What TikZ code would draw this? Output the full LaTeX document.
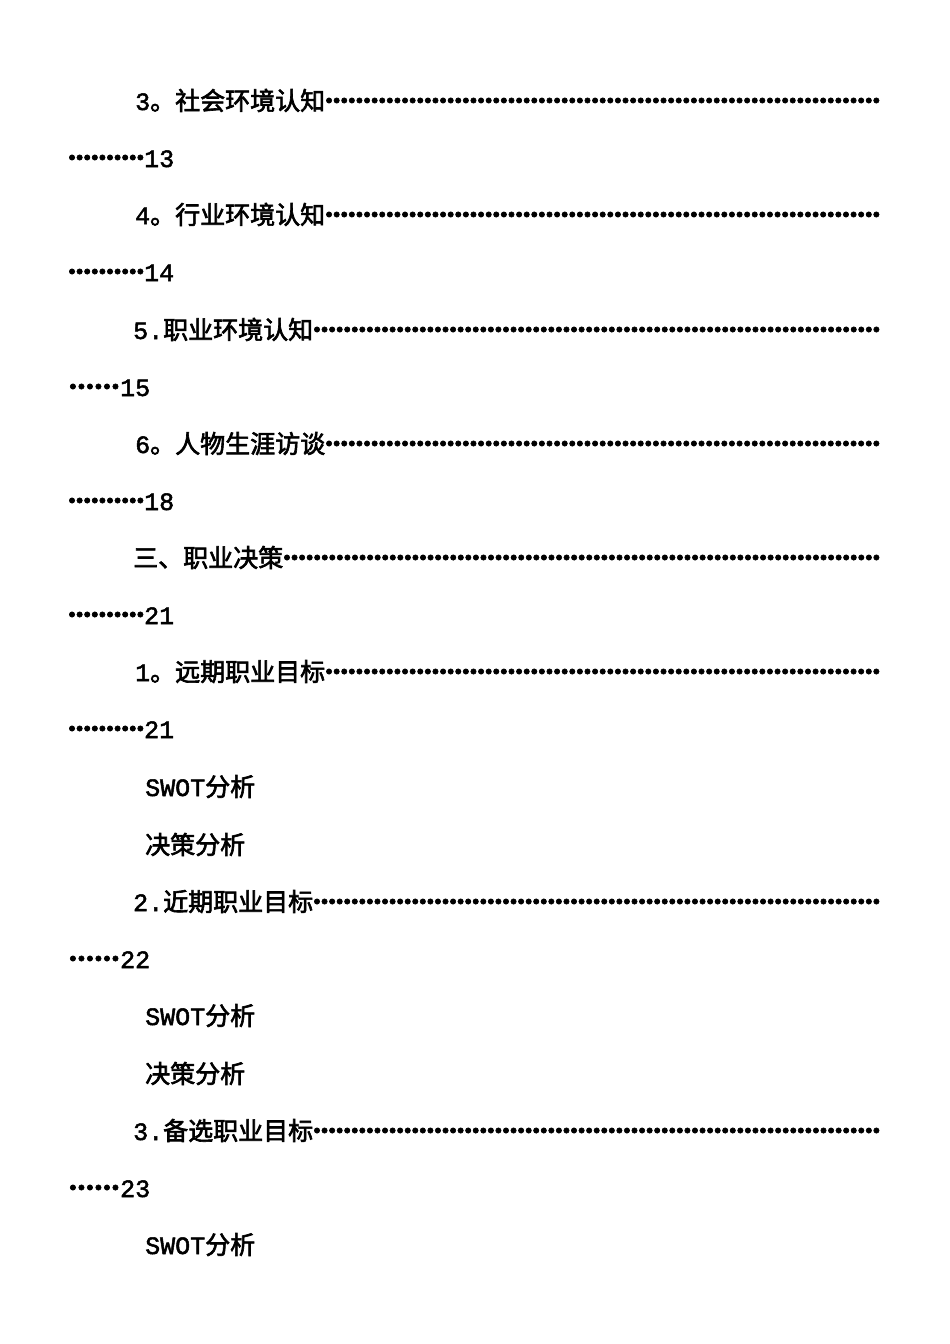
\documentclass[tikz,border=0pt]{standalone}
\usepackage{fontspec}
\setmainfont{Noto Sans CJK SC}[AutoFakeBold=2.5]
\newfontfamily\latinf{Liberation Mono}[AutoFakeBold=2]
\newcommand{\mydots}{\xleaders\hbox to 7.55pt{\hss\textbf{·}\hss}\hfill}
\begin{document}
\begin{tikzpicture}[x=1pt,y=1pt,
  txt/.style={anchor=base west,inner sep=0pt,font=\fontsize{25}{25}\selectfont\bfseries}]
\useasboundingbox[fill=white] (0,0) rectangle (950,-1344);
\newcommand{\entry}[6]{%
 \node[txt] (#1a) at (#3,-#2) {\hbox to \dimexpr 880pt-#3pt\relax{#4\mydots}};
 \node[txt] (#1b) at (68,-#2-57) {\hbox to #6pt{\mydots}{\latinf #5}};}
\entry{e1}{110}{135}{{\latinf 3}。社会环境认知}{13}{76}
\entry{e2}{224}{135}{{\latinf 4}。行业环境认知}{14}{76}
\entry{e3}{339}{133}{{\latinf 5.}职业环境认知}{15}{52}
\entry{e4}{453}{135}{{\latinf 6}。人物生涯访谈}{18}{76}
\entry{e5}{567}{133}{三、职业决策}{21}{76}
\entry{e6}{681}{135}{{\latinf 1}。远期职业目标}{21}{76}
\node[txt] (s1) at (145,-796) {{\latinf SWOT}分析};
\node[txt] (d1) at (145,-854) {决策分析};
\entry{e7}{911}{133}{{\latinf 2.}近期职业目标}{22}{52}
\node[txt] (s2) at (145,-1025) {{\latinf SWOT}分析};
\node[txt] (d2) at (145,-1083) {决策分析};
\entry{e8}{1140}{133}{{\latinf 3.}备选职业目标}{23}{52}
\node[txt] (s3) at (145,-1254) {{\latinf SWOT}分析};
\end{tikzpicture}
\end{document}
